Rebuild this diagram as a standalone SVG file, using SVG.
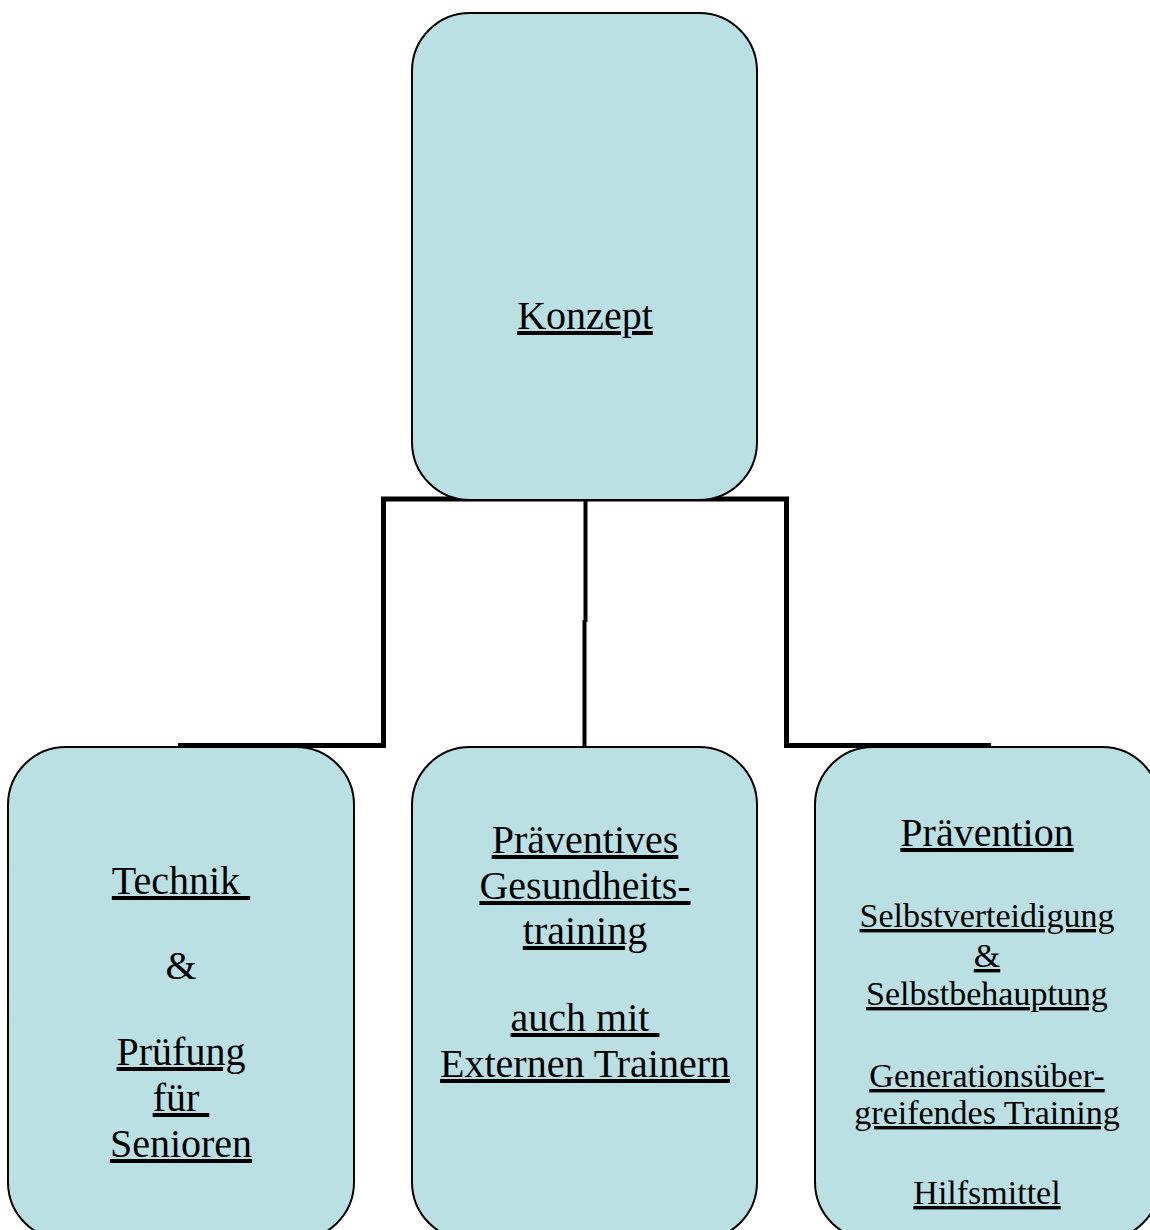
<svg xmlns="http://www.w3.org/2000/svg" width="1150" height="1230" viewBox="0 0 1150 1230">
<style>
.box{fill:#BAE0E3;stroke:#000;stroke-width:2}
.t{font-family:"Liberation Serif","Times New Roman",serif;font-size:40px;fill:#000;text-anchor:middle;text-decoration:underline}
.s{font-size:34px}
.c{stroke:#000;stroke-width:5;fill:none;stroke-linecap:butt}
</style>
<rect width="1150" height="1230" fill="#fff"/>
<g id="connectors">
<line class="c" x1="381" y1="499" x2="789" y2="499"/>
<line class="c" x1="383.5" y1="497" x2="383.5" y2="748"/>
<line class="c" x1="178" y1="745.5" x2="386" y2="745.5"/>
<line class="c" style="stroke-width:4" x1="585.5" y1="499" x2="585.5" y2="622"/>
<line class="c" style="stroke-width:4" x1="584.5" y1="620" x2="584.5" y2="748"/>
<line class="c" x1="786.5" y1="497" x2="786.5" y2="748"/>
<line class="c" x1="784" y1="745.5" x2="991" y2="745.5"/>
</g>
<g id="konzept">
<rect class="box" x="412" y="13" width="345" height="487" rx="58" ry="58"/>
<text class="t" x="585" y="329">Konzept</text>
</g>
<g id="technik">
<rect class="box" x="8" y="747" width="346" height="493" rx="58" ry="58"/>
<text class="t" x="181" y="894" xml:space="preserve">Technik </text>
<text class="t" x="181" y="979" style="text-decoration:none">&amp;</text>
<text class="t" x="181" y="1065">Prüfung</text>
<text class="t" x="181" y="1111" xml:space="preserve">für </text>
<text class="t" x="181" y="1157">Senioren</text>
</g>
<g id="gesundheit">
<rect class="box" x="412" y="747" width="345" height="493" rx="58" ry="58"/>
<text class="t" x="585" y="853">Präventives</text>
<text class="t" x="585" y="899">Gesundheits-</text>
<text class="t" x="585" y="944">training</text>
<text class="t" x="585" y="1031" xml:space="preserve">auch mit </text>
<text class="t" x="585" y="1077">Externen Trainern</text>
</g>
<g id="praevention">
<rect class="box" x="815" y="747" width="345" height="493" rx="58" ry="58"/>
<text class="t" x="987" y="846">Prävention</text>
<text class="t s" x="987" y="927">Selbstverteidigung</text>
<text class="t s" x="987" y="967">&amp;</text>
<text class="t s" x="987" y="1005">Selbstbehauptung</text>
<text class="t s" x="987" y="1087">Generationsüber-</text>
<text class="t s" x="987" y="1124">greifendes Training</text>
<text class="t s" x="987" y="1204">Hilfsmittel</text>
</g>
</svg>
